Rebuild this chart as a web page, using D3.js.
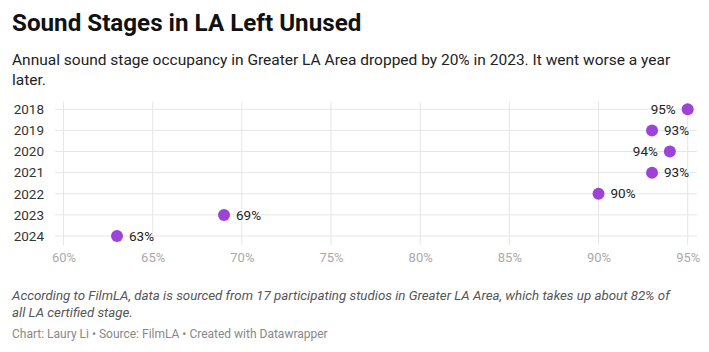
<!DOCTYPE html>
<html><head><meta charset="utf-8">
<script src="https://cdn.jsdelivr.net/npm/d3@7"></script>
<style>
body{margin:0;background:#fff;font-family:Roboto,"Noto Sans",sans-serif;}
</style></head><body>
<svg id="c" width="709" height="352"></svg>
<script>
const years = ["2018","2019","2020","2021","2022","2023","2024"];
const occupancy = [95, 93, 94, 93, 90, 69, 63];
const labelSide = ["left","right","left","right","right","right","right"];
const xTicks = [60, 65, 70, 75, 80, 85, 90, 95];

const svg = d3.select("#c");
const x = d3.scaleLinear().domain([60, 95]).range([63.5, 687.7]);
const y = d3.scalePoint().domain(years).range([109.3, 236]);

svg.append("text").attr("x", 12).attr("y", 31).text("Sound Stages in LA Left Unused")
  .attr("font-size", 24.2).attr("font-weight", 700).attr("fill", "#111");
svg.append("text").attr("x", 12).attr("y", 65).attr("font-size", 15.5).attr("fill", "#222")
  .text("Annual sound stage occupancy in Greater LA Area dropped by 20% in 2023. It went worse a year");
svg.append("text").attr("x", 12).attr("y", 85).attr("font-size", 15.5).attr("fill", "#222").text("later.");

const g = svg.append("g");
g.selectAll("line.h").data(years).join("line")
  .attr("x1", 55).attr("x2", 697).attr("y1", d => y(d)).attr("y2", d => y(d))
  .attr("stroke", "#e6e6e6").attr("stroke-width", 1);
g.selectAll("line.v").data(xTicks).join("line")
  .attr("x1", d => x(d)).attr("x2", d => x(d)).attr("y1", 101.5).attr("y2", 245)
  .attr("stroke", "#e6e6e6").attr("stroke-width", 1);

const xa = svg.append("g").attr("transform", "translate(0,245)")
  .call(d3.axisBottom(x).tickValues(xTicks).tickFormat(d => d + "%").tickSize(0).tickPadding(8));
xa.select(".domain").remove();
xa.selectAll("text").attr("font-size", 13).attr("fill", "#aaa").attr("font-family", "Roboto, sans-serif");

const ya = svg.append("g").attr("transform", "translate(44,0)")
  .call(d3.axisLeft(y).tickSize(0).tickPadding(0));
ya.select(".domain").remove();
ya.selectAll("text").attr("font-size", 13.5).attr("fill", "#333").attr("font-family", "Roboto, sans-serif");

const data = years.map((yr, i) => ({yr, v: occupancy[i], side: labelSide[i]}));
svg.selectAll("circle.d").data(data).join("circle")
  .attr("cx", d => x(d.v)).attr("cy", d => y(d.yr)).attr("r", 6).attr("fill", "#9d43d8");
svg.selectAll("text.l").data(data).join("text")
  .attr("x", d => d.side === "right" ? x(d.v) + 12 : x(d.v) - 12)
  .attr("y", d => y(d.yr)).attr("dy", "0.35em")
  .attr("text-anchor", d => d.side === "right" ? "start" : "end")
  .attr("font-size", 13.5).attr("fill", "#222").text(d => d.v + "%");

svg.append("text").attr("x", 12).attr("y", 300).attr("font-size", 13.3).attr("font-style", "italic").attr("fill", "#555")
  .text("According to FilmLA, data is sourced from 17 participating studios in Greater LA Area, which takes up about 82% of");
svg.append("text").attr("x", 12).attr("y", 317).attr("font-size", 13.3).attr("font-style", "italic").attr("fill", "#555")
  .text("all LA certified stage.");
svg.append("text").attr("x", 12).attr("y", 338).attr("font-size", 12).attr("fill", "#888")
  .text("Chart: Laury Li • Source: FilmLA • Created with Datawrapper");
</script></body></html>
